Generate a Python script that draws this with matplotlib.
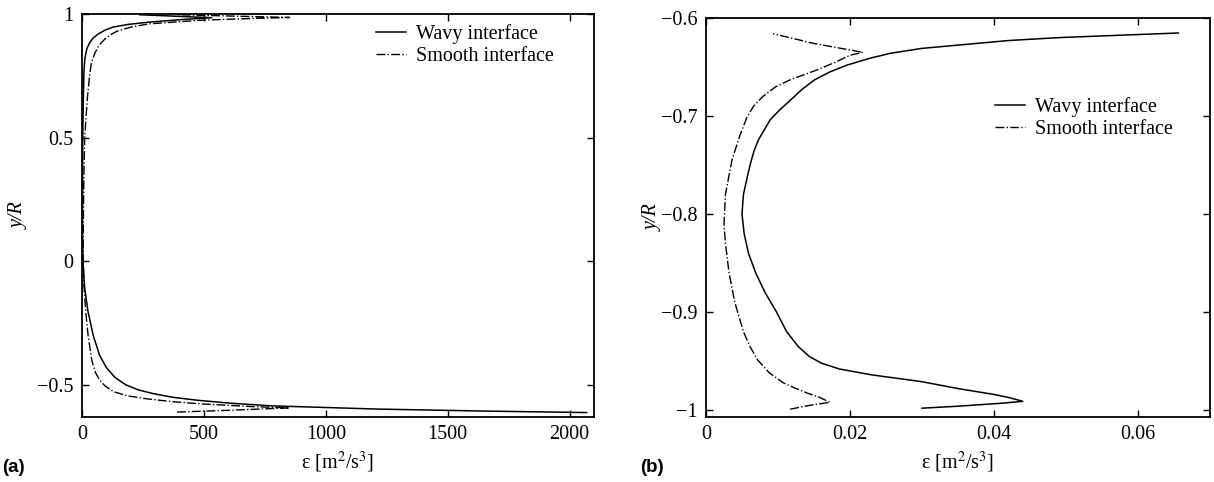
import matplotlib
matplotlib.use("Agg")
import matplotlib.pyplot as plt

# (a) dissipation profiles across the pipe, y/R vs epsilon
wavy_a_y = [-0.612, -0.606, -0.598, -0.585, -0.575, -0.563, -0.55, -0.535, -0.52, -0.5,
            -0.47, -0.43, -0.38, -0.3, -0.2, -0.1, 0.0, 0.1, 0.3, 0.5, 0.63, 0.77,
            0.82, 0.86, 0.885, 0.905, 0.92, 0.935, 0.947, 0.958, 0.967, 0.978,
            0.985, 0.997]
wavy_a_eps = [2070, 1650, 1215, 780, 620, 480, 370, 290, 230, 180,
              135, 100, 72, 46, 24, 10, 4, 2, 2, 3, 5, 8,
              12, 20, 32, 48, 68, 95, 127, 190, 274, 417,
              532, 237]

smooth_a_y = [-0.61, -0.603, -0.593, -0.588, -0.577, -0.568, -0.557, -0.545, -0.528, -0.505,
              -0.48, -0.45, -0.4, -0.3, -0.2, -0.1, 0.0, 0.1, 0.3, 0.5, 0.66, 0.74,
              0.80, 0.84, 0.874, 0.9, 0.918, 0.93, 0.947, 0.96, 0.975, 0.982,
              0.986, 0.997]
smooth_a_eps = [390, 600, 851, 700, 490, 370, 270, 190, 130, 95,
                72, 55, 40, 25, 15, 8, 5, 5, 7, 11, 22, 30,
                38, 52, 70, 95, 120, 143, 200, 274, 490, 700,
                851, 390]

# (b) close-up near the lower wall
wavy_b_y = [-0.998, -0.996, -0.993, -0.991, -0.987, -0.984, -0.978, -0.971, -0.964, -0.958,
            -0.952, -0.945, -0.935, -0.92, -0.90, -0.88, -0.86, -0.84, -0.82, -0.80, -0.78,
            -0.76, -0.745, -0.735, -0.724, -0.704, -0.694, -0.684, -0.673, -0.663,
            -0.655, -0.648, -0.641, -0.636, -0.631, -0.627, -0.623, -0.620, -0.618,
            -0.6153]
wavy_b_eps = [0.030, 0.035, 0.041, 0.044, 0.042, 0.040, 0.035, 0.030, 0.0230, 0.0185,
              0.0160, 0.0143, 0.0128, 0.0112, 0.0098, 0.0082, 0.0069, 0.0059, 0.0053, 0.0050, 0.0052,
              0.0058, 0.0063, 0.0067, 0.0073, 0.0089, 0.0102, 0.0117, 0.0133, 0.0151,
              0.0172, 0.0196, 0.0228, 0.0256, 0.030, 0.036, 0.042, 0.049, 0.056,
              0.0656]

smooth_b_y = [-0.999, -0.995, -0.992, -0.987, -0.983, -0.977, -0.972, -0.962, -0.949, -0.935,
              -0.92, -0.89, -0.86, -0.83, -0.81, -0.78, -0.745, -0.72, -0.701, -0.69,
              -0.68, -0.67, -0.663, -0.653, -0.645, -0.638, -0.635, -0.626, -0.616]
smooth_b_eps = [0.0117, 0.0145, 0.0172, 0.0158, 0.0142, 0.0122, 0.0107, 0.0088, 0.0072, 0.0061,
                0.0052, 0.0040, 0.0032, 0.0027, 0.0025, 0.0027, 0.0036, 0.0047, 0.0057, 0.0066,
                0.0079, 0.0097, 0.0117, 0.0154, 0.0180, 0.0200, 0.0218, 0.0150, 0.0093]

xticks_a = [0, 500, 1000, 1500, 2000]
yticks_a = [-0.5, 0, 0.5, 1]
xticks_b = [0, 0.02, 0.04, 0.06]
yticks_b = [-1, -0.9, -0.8, -0.7, -0.6]

plt.rcParams['font.family'] = ['Liberation Serif', 'DejaVu Serif']
plt.rcParams['mathtext.fontset'] = 'stix'
plt.rcParams['font.size'] = 14.5
plt.rcParams['axes.linewidth'] = 1.3

W, H = 1214, 482
fig = plt.figure(figsize=(W / 100, H / 100), dpi=100)
ax1 = fig.add_axes([82 / W, (H - 417) / H, 512 / W, 403 / H])
ax2 = fig.add_axes([706 / W, (H - 417) / H, 504 / W, 399 / H])


def style(ax, pad):
    ax.tick_params(direction='in', top=True, right=True, length=5, width=1,
                   labelsize=14.5, pad=6)
    ax.set_xlabel(r'ε [m$^{2}$/s$^{3}$]', fontsize=14.5, labelpad=4)
    ax.set_ylabel('y/R', fontstyle='italic', fontsize=14.5, labelpad=pad)


ax1.plot(wavy_a_eps, wavy_a_y, 'k-', lw=1.1, label='Wavy interface')
ax1.plot(smooth_a_eps, smooth_a_y, 'k-.', lw=1.0, label='Smooth interface')
ax1.set_xlim(0, 2100)
ax1.set_ylim(-0.63, 1.0)
ax1.set_xticks(xticks_a)
ax1.set_yticks(yticks_a)
ax1.set_xticklabels([str(v) for v in xticks_a])
ax1.set_yticklabels(['\u22120.5', '0', '0.5', '1'])
style(ax1, 6)
ax1.legend(loc='upper left', bbox_to_anchor=(0.574, 0.975), frameon=False,
           handlelength=1.5, handletextpad=0.5, labelspacing=0.15,
           borderpad=0, borderaxespad=0, fontsize=14.5)

ax2.plot(wavy_b_eps, wavy_b_y, 'k-', lw=1.1, label='Wavy interface')
ax2.plot(smooth_b_eps, smooth_b_y, 'k-.', lw=1.0, label='Smooth interface')
ax2.set_xlim(0, 0.07)
ax2.set_ylim(-1.007, -0.6)
ax2.set_xticks(xticks_b)
ax2.set_yticks(yticks_b)
ax2.set_xticklabels(['0', '0.02', '0.04', '0.06'])
ax2.set_yticklabels(['\u22121', '\u22120.9', '\u22120.8', '\u22120.7', '\u22120.6'])
style(ax2, -1)
ax2.legend(loc='upper left', bbox_to_anchor=(0.573, 0.802), frameon=False,
           handlelength=1.5, handletextpad=0.5, labelspacing=0.15,
           borderpad=0, borderaxespad=0, fontsize=14.5)

# panel tags
fig.text(2 / W, 1 - 468 / H, '(a)', family='Liberation Sans', fontweight='bold',
         fontsize=13.5, va='center', ha='left')
fig.text(640 / W, 1 - 468 / H, '(b)', family='Liberation Sans', fontweight='bold',
         fontsize=13.5, va='center', ha='left')

fig.savefig('out.png', dpi=100)
